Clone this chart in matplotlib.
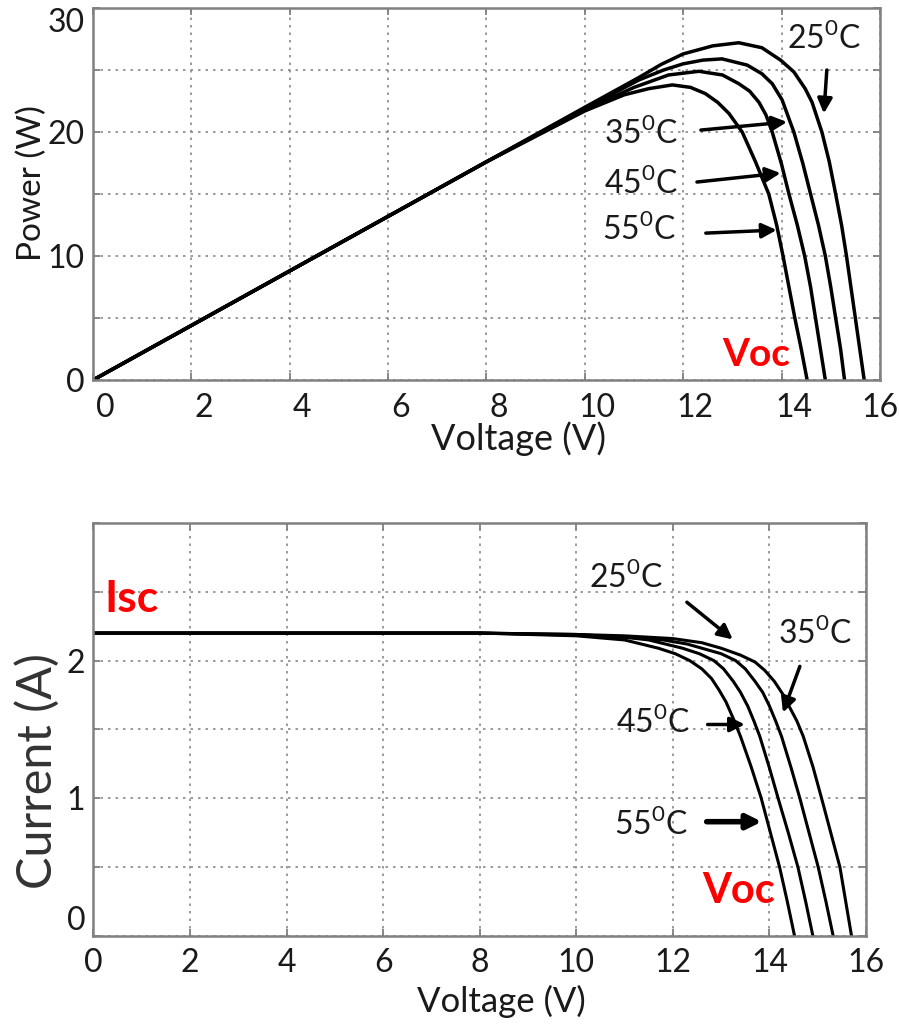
import numpy as np
import matplotlib
matplotlib.use('Agg')
import matplotlib.pyplot as plt
from matplotlib.transforms import ScaledTranslation

######################################## Dados ########################################
temps = ['25', '35', '45', '55']

# Curvas P x V (grafico de cima)
V_p25 = [0, 4, 8, 10, 11.1, 11.55, 12.0, 12.6, 13.13, 13.6, 13.98, 14.25, 14.48, 14.62, 14.82, 14.97,
         15.10, 15.22, 15.32, 15.41, 15.50, 15.59, 15.68]
P_25 = [0, 8.8, 17.6, 22.0, 24.4, 25.45, 26.3, 26.95, 27.2, 26.8, 25.8, 24.85, 23.5, 22.4, 20.0, 17.6,
        15.0, 12.5, 10.0, 7.5, 5.0, 2.5, 0]
V_p35 = [0, 4, 8, 10, 11.1, 11.6, 12.0, 12.4, 12.79, 13.3, 13.6, 13.81, 14.01, 14.25, 14.43, 14.59,
         14.75, 14.89, 15.0, 15.10, 15.2, 15.28]
P_35 = [0, 8.8, 17.6, 21.9, 24.2, 25.0, 25.5, 25.8, 25.9, 25.4, 24.7, 23.9, 22.6, 20.0, 17.5, 15.0,
        12.5, 10.0, 7.5, 5.0, 2.5, 0]
V_p45 = [0, 4, 8, 10, 11.0, 11.7, 12.32, 12.8, 13.13, 13.35, 13.54, 13.68, 13.81, 14.0, 14.15, 14.32,
         14.47, 14.59, 14.69, 14.79, 14.89]
P_45 = [0, 8.8, 17.6, 21.8, 23.6, 24.6, 24.9, 24.6, 23.9, 23.3, 22.4, 21.4, 20.0, 17.4, 15.0, 12.5,
        10.0, 7.5, 5.0, 2.5, 0]
V_p55 = [0, 4, 8, 10, 10.8, 11.3, 11.78, 12.15, 12.45, 12.7, 12.93, 13.2, 13.47, 13.74, 13.9, 14.03,
         14.15, 14.27, 14.4, 14.52]
P_55 = [0, 8.8, 17.6, 21.7, 23.0, 23.5, 23.8, 23.6, 23.1, 22.4, 21.5, 20.0, 17.6, 15.0, 12.5, 10.0,
        7.5, 5.0, 2.5, 0]

# Curvas I x V (grafico de baixo)
V_i25 = [0, 8, 10, 11, 12.0, 12.6, 13.0, 13.4, 13.7, 13.9, 14.1, 14.27, 14.42, 14.57, 14.70, 14.9,
         15.08, 15.27, 15.46, 15.58, 15.70]
I_25 = [2.2, 2.2, 2.19, 2.18, 2.16, 2.13, 2.09, 2.04, 1.99, 1.93, 1.85, 1.76, 1.66, 1.56, 1.45, 1.23,
        1.0, 0.75, 0.5, 0.25, 0]
V_i35 = [0, 8, 10, 11, 11.8, 12.3, 12.6, 13.0, 13.3, 13.5, 13.7, 13.86, 14.0, 14.13, 14.25, 14.45,
         14.63, 14.82, 15.01, 15.17, 15.32]
I_35 = [2.2, 2.2, 2.19, 2.17, 2.15, 2.12, 2.09, 2.05, 2.0, 1.94, 1.85, 1.77, 1.67, 1.56, 1.45, 1.22,
        1.0, 0.75, 0.5, 0.25, 0]
V_i45 = [0, 8, 10, 11, 11.5, 12.2, 12.55, 12.85, 13.05, 13.25, 13.4, 13.55, 13.68, 13.80, 14.0, 14.18,
         14.39, 14.59, 14.75, 14.90]
I_45 = [2.2, 2.2, 2.185, 2.17, 2.15, 2.09, 2.05, 2.0, 1.94, 1.85, 1.77, 1.67, 1.56, 1.45, 1.22, 1.0,
        0.75, 0.5, 0.25, 0]
V_i55 = [0, 8, 10, 11, 11.7, 12.05, 12.35, 12.6, 12.8, 12.95, 13.1, 13.25, 13.4, 13.62, 13.83, 14.02,
         14.21, 14.37, 14.52]
I_55 = [2.2, 2.2, 2.18, 2.15, 2.09, 2.05, 2.0, 1.94, 1.87, 1.79, 1.7, 1.58, 1.45, 1.23, 1.0, 0.75,
        0.5, 0.25, 0]

x_ticks = np.arange(0, 17, 2)
p_ticks = np.arange(0, 31, 5)
p_labels = ['0', '', '10', '', '20', '', '30']
i_ticks = np.arange(0, 3.01, 0.5)
i_labels = ['0', '', '1', '', '2', '', '']
########################################################################################################

plt.rcParams['font.family'] = ['Lato', 'DejaVu Sans']
plt.rcParams['mathtext.fontset'] = 'custom'
plt.rcParams['mathtext.rm'] = 'Lato'

fig = plt.figure(figsize=(8.99, 10.30), dpi=100)
ax1 = fig.add_axes([0.1034, 0.631, 0.8754, 0.3612])
ax2 = fig.add_axes([0.104, 0.0913, 0.8593, 0.4010])


def estilo(ax):
    for s in ax.spines.values():
        s.set_color('#808080')
        s.set_linewidth(1.8)
    ax.tick_params(direction='in', length=5, width=1.3, color='#808080', top=True, right=True,
                   labelsize=23, labelcolor='#1a1a1a')
    ax.tick_params(axis='x', pad=9)
    ax.tick_params(axis='y', pad=6)
    ax.grid(True, linestyle=(0, (1.5, 3)), color='#8a8a8a', linewidth=1.2)
    ax.set_axisbelow(True)


def seta(ax, tail, tip, lw=2.5):
    ax.annotate('', xy=tip, xytext=tail,
                arrowprops=dict(arrowstyle='-|>', color='k', lw=lw, mutation_scale=22,
                                shrinkA=0, shrinkB=0))


def rotulo(ax, x, y, t):
    ax.text(x, y, r'%s$^{\mathrm{0}}$C' % t, fontsize=23, ha='center', va='center', color='#1a1a1a')


############################################ Grafico P x V ############################################
for V, P in [(V_p25, P_25), (V_p35, P_35), (V_p45, P_45), (V_p55, P_55)]:
    ax1.plot(V, P, color='k', linewidth=2.5, solid_joinstyle='round')

estilo(ax1)
ax1.set_xlim(0, 16)
ax1.set_ylim(0, 30)
ax1.set_xticks(x_ticks)
ax1.set_yticks(p_ticks)
ax1.set_yticklabels(p_labels)
ax1.get_yticklabels()[-1].set_verticalalignment('top')
for lab in ax1.get_xticklabels()[:-1]:
    lab.set_transform(lab.get_transform() + ScaledTranslation(0.12, 0, fig.dpi_scale_trans))
ax1.set_xlabel('Voltage (V)', fontsize=26, color='#1a1a1a')
ax1.set_ylabel('Power (W)', fontsize=24, color='#1a1a1a')
ax1.xaxis.set_label_coords(0.541, -0.112)
ax1.yaxis.set_label_coords(-0.058, 0.53)

rotulo(ax1, 14.86, 27.58, temps[0])
seta(ax1, (14.92, 25.0), (14.86, 21.5))
rotulo(ax1, 11.14, 19.92, temps[1])
seta(ax1, (12.36, 20.16), (14.11, 20.81))
rotulo(ax1, 11.14, 15.89, temps[2])
seta(ax1, (12.28, 15.97), (13.98, 16.69))
rotulo(ax1, 11.10, 12.18, temps[3])
seta(ax1, (12.46, 11.85), (13.90, 12.10))
ax1.text(13.48, 2.10, 'Voc', color='red', fontsize=28, fontweight='bold', ha='center', va='center')

############################################ Grafico I x V ############################################
for V, I in [(V_i25, I_25), (V_i35, I_35), (V_i45, I_45), (V_i55, I_55)]:
    ax2.plot(V, I, color='k', linewidth=2.2, solid_joinstyle='round')

estilo(ax2)
ax2.set_xlim(0, 16)
ax2.set_ylim(0, 3)
ax2.set_xticks(x_ticks)
ax2.set_yticks(i_ticks)
ax2.set_yticklabels(i_labels)
ax2.get_yticklabels()[0].set_verticalalignment('bottom')
ax2.set_xlabel('Voltage (V)', fontsize=25, color='#1a1a1a')
ax2.set_ylabel('Current (A)', fontsize=35, color='#333333')
ax2.xaxis.set_label_coords(0.5275, -0.118)
ax2.yaxis.set_label_coords(-0.043, 0.40)

ax2.text(0.78, 2.445, 'Isc', color='red', fontsize=32, fontweight='bold', ha='center', va='center')
rotulo(ax2, 11.02, 2.605, temps[0])
seta(ax2, (12.29, 2.424), (13.24, 2.154))
rotulo(ax2, 14.94, 2.198, temps[1])
seta(ax2, (14.63, 1.958), (14.28, 1.623))
rotulo(ax2, 11.58, 1.55, temps[2])
seta(ax2, (12.72, 1.536), (13.49, 1.536))
rotulo(ax2, 11.54, 0.808, temps[3])
seta(ax2, (12.70, 0.83), (13.84, 0.83), lw=4)
ax2.text(13.36, 0.327, 'Voc', color='red', fontsize=30, fontweight='bold', ha='center', va='center')

plt.savefig('out.png', dpi=100)
plt.close()
